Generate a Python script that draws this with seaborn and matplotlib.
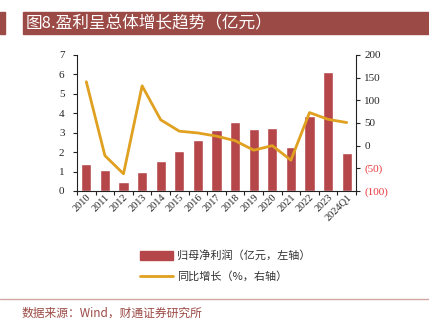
import numpy as np
import pandas as pd
import matplotlib
matplotlib.use("Agg")
import matplotlib.pyplot as plt
import seaborn as sns
from matplotlib.patches import Rectangle
from matplotlib.lines import Line2D
from matplotlib.ticker import FuncFormatter

categories = ["2010", "2011", "2012", "2013", "2014", "2015", "2016", "2017",
              "2018", "2019", "2020", "2021", "2022", "2023", "2024Q1"]
profit = [1.37, 1.08, 0.45, 1.0, 1.56, 2.06, 2.61, 3.16, 3.54, 3.2, 3.25, 2.25, 3.88, 6.12, 1.96]
growth = [141, -22, -62, 132, 57, 32, 28, 21, 11, -10, 0, -32, 73, 58, 51]
title = "图8.盈利呈总体增长趋势（亿元）"
legend_bar = "归母净利润（亿元，左轴）"
legend_line = "同比增长（%，右轴）"
source = "数据来源：Wind，财通证券研究所"

sns.set_style("white")
plt.rcParams['font.family'] = ['Noto Sans CJK SC', 'DejaVu Sans']

bar_color = "#B5474A"
line_color = "#E0A020"
dark_red = "#9B4A45"
serif = ['Liberation Serif', 'DejaVu Serif']

fig = plt.figure(figsize=(4.29, 3.29), dpi=100)
ax = fig.add_axes([77/429, 1-191/329, (356-77)/429, (191-55)/329])

df = pd.DataFrame({"cat": categories, "profit": profit, "growth": growth, "pos": np.arange(len(categories))})
sns.barplot(data=df, x="cat", y="profit", color=bar_color, width=0.55, ax=ax, saturation=1)
ax.set_xlim(-0.5, len(categories) - 0.5)
ax.set_ylim(0, 7)
ax.set_yticks(range(0, 8))
ax.set_xlabel("")
ax.set_ylabel("")

ax2 = ax.twinx()
sns.lineplot(data=df, x="pos", y="growth", color=line_color, lw=2, ax=ax2)
ax2.set_ylim(-100, 200)
ax2.set_yticks(range(-100, 201, 50))
ax2.set_ylabel("")
ax2.set_xlabel("")
ax2.set_xlim(-0.5, len(categories) - 0.5)
ax2.yaxis.set_major_formatter(FuncFormatter(lambda v, p: f"({abs(int(v))})" if v < 0 else f"{int(v)}"))

for a in (ax, ax2):
    for s in a.spines.values():
        s.set_visible(False)
ax.spines['left'].set_visible(True)
ax.spines['bottom'].set_visible(True)
ax2.spines['right'].set_visible(True)
for s in (ax.spines['left'], ax.spines['bottom'], ax2.spines['right']):
    s.set_color("#222222")
    s.set_linewidth(0.8)

ax.tick_params(axis='y', direction='out', length=3, width=0.8, labelsize=8, pad=6, left=True, color="#222222")
ax2.tick_params(axis='y', direction='out', length=3, width=0.8, labelsize=8, pad=3, right=True, color="#222222")
ax.tick_params(axis='x', length=0, labelsize=7.5, pad=1)
ax.set_xticks(np.arange(len(categories)))
ax.set_xticklabels(categories, rotation=45, ha='right', rotation_mode='anchor')
ax.set_xticks(np.arange(-0.5, len(categories), 1), minor=True)
ax.tick_params(axis='x', which='minor', direction='out', length=3, width=0.8, bottom=True, color="#222222")
for lab in ax.get_xticklabels() + ax.get_yticklabels() + ax2.get_yticklabels():
    lab.set_fontfamily(serif)
for lab in ax2.get_yticklabels():
    if lab.get_text().startswith("("):
        lab.set_color("#E8383D")

# title bar
fig.patches.append(Rectangle((0, 1-34/329), 5/429, 22/329, transform=fig.transFigure, color=dark_red))
fig.patches.append(Rectangle((23/429, 1-34/329), 406/429, 22/329, transform=fig.transFigure, color=dark_red))
fig.text(26/429, 1-23/329, title, color="white", fontsize=12, va='center', ha='left')

# legend
handles = [Rectangle((0, 0), 1, 1, color=bar_color), Line2D([0], [0], color=line_color, lw=2)]
fig.legend(handles, [legend_bar, legend_line], loc='center left', bbox_to_anchor=(130/429, 1-266/329),
           frameon=False, fontsize=8, handlelength=3.0, handleheight=0.9, labelspacing=0.9,
           handletextpad=0.3, labelcolor="#333333")

# separator & source
fig.add_artist(Line2D([0, 1], [1-299/329, 1-299/329], transform=fig.transFigure, color="#D4A5A5", lw=1))
fig.text(22/429, 1-313/329, source, color=dark_red, fontsize=8.5, va='center', ha='left')

fig.savefig("out.png", dpi=100)
